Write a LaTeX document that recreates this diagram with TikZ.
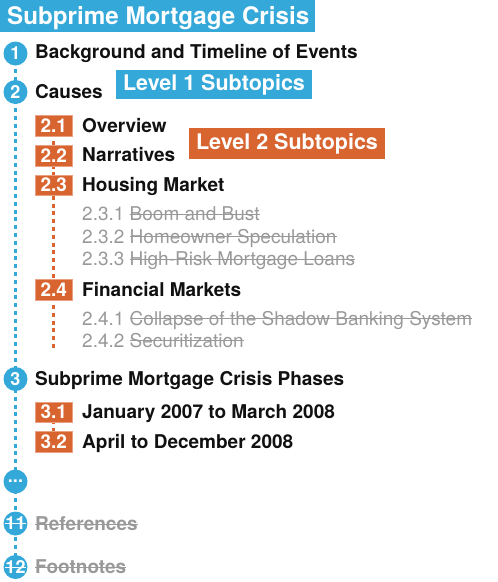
\documentclass[tikz,border=0pt]{standalone}
\usepackage{fontspec}
\setmainfont{TeX Gyre Heros}
\definecolor{blueC}{HTML}{34A8D8}
\definecolor{orangeC}{HTML}{D86430}
\definecolor{grayC}{HTML}{999999}
\definecolor{textC}{HTML}{111111}
\newcommand\mystrike[2]{\setbox0\hbox{#2}\rlap{\color{#1}\raisebox{0.3em}{\rule{\wd0}{1.3pt}}}\box0}
\pgfdeclarelayer{background}
\pgfsetlayers{background,main}
\tikzset{
  lvltext/.style={anchor=base west, inner sep=0pt, text=textC, font=\fontsize{19}{22}\selectfont\bfseries},
  subtext/.style={anchor=base west, inner sep=0pt, text=grayC, font=\fontsize{19}{22}\selectfont},
  donetext/.style={anchor=base west, inner sep=0pt, text=grayC, font=\fontsize{19}{22}\selectfont\bfseries},
  numc/.style={circle, fill=blueC, minimum size=24pt, inner sep=0pt, text=white, font=\fontsize{18}{18}\selectfont\bfseries},
  obox/.style={fill=orangeC, draw=orangeC!60, line width=0.5pt, minimum width=37.5pt, minimum height=20.5pt, inner sep=0pt, text=white, font=\fontsize{19}{19}\selectfont\bfseries},
  tagbox/.style={inner sep=0pt, text=white, font=\fontsize{21.5}{22}\selectfont\bfseries},
  bdash/.style={draw=blueC, line width=2.8pt, dash pattern=on 4pt off 3.8pt},
  odash/.style={draw=orangeC, line width=2.8pt, dash pattern=on 4pt off 3.8pt},
}
\begin{document}
\begin{tikzpicture}[x=1pt,y=-1pt]
\useasboundingbox (0,0) rectangle (498,582);
% title
\node[fill=blueC, anchor=north west, minimum width=315pt, minimum height=32pt, inner sep=0pt] (titlebox) at (0,0) {};
\node[anchor=base west, inner sep=0pt, text=white, font=\fontsize{24.2}{26}\selectfont\bfseries] (title) at (7,24.5) {Subprime Mortgage Crisis};
% level tags
\node[tagbox, fill=blueC, minimum width=196pt, minimum height=29pt] (tag1) at (214,84.5) {Level 1 Subtopics};
\node[tagbox, fill=orangeC, minimum width=196pt, minimum height=31pt] (tag2) at (287,143.5) {Level 2 Subtopics};
% circles
\node[numc] (c1) at (15.5,53.5) {1};
\node[numc] (c2) at (15.5,92) {2};
\node[numc] (c3) at (15.5,379) {3};
\node[numc] (cd) at (15.5,481.5) {...};
\node[numc] (c11) at (15.5,523.5) {\mystrike{white}{11}};
\node[numc] (c12) at (15.5,567) {\mystrike{white}{12}};
% level 1 texts
\node[lvltext] (t1) at (35,58.5) {Background and Timeline of Events};
\node[lvltext] (t2) at (35,98) {Causes};
\node[lvltext] (t3) at (35,385.5) {Subprime Mortgage Crisis Phases};
\node[donetext] (t11) at (35,530.5) {\mystrike{grayC}{References}};
\node[donetext] (t12) at (35,573.5) {\mystrike{grayC}{Footnotes}};
% orange boxes
\node[obox] (o21) at (53.75,125.5) {2.1};
\node[obox] (o22) at (53.75,155.5) {2.2};
\node[obox] (o23) at (53.75,185) {2.3};
\node[obox] (o24) at (53.75,289.5) {2.4};
\node[obox] (o31) at (53.75,412) {3.1};
\node[obox] (o32) at (53.75,441.5) {3.2};
\coordinate (oend) at (53.75,350);
% level 2 texts
\node[lvltext] (t21) at (82,132) {Overview};
\node[lvltext] (t22) at (82,161.5) {Narratives};
\node[lvltext] (t23) at (82,191) {Housing Market};
\node[lvltext] (t24) at (82,296) {Financial Markets};
\node[lvltext] (t31) at (82,418.5) {January 2007 to March 2008};
\node[lvltext] (t32) at (82,448) {April to December 2008};
% level 3 texts
\node[subtext] (t231) at (82,220.5) {2.3.1 \mystrike{grayC}{Boom and Bust}};
\node[subtext] (t232) at (82,243) {2.3.2 \mystrike{grayC}{Homeowner Speculation}};
\node[subtext] (t233) at (82,265.5) {2.3.3 \mystrike{grayC}{High-Risk Mortgage Loans}};
\node[subtext] (t241) at (82,325) {2.4.1 \mystrike{grayC}{Collapse of the Shadow Banking System}};
\node[subtext] (t242) at (82,347) {2.4.2 \mystrike{grayC}{Securitization}};
% connectors
\begin{pgfonlayer}{background}
\draw[bdash] (c1.center) -- (c12.center);
\draw[odash] (o21.center) -- (oend);
\draw[odash] (o31.center) -- (o32.center);
\end{pgfonlayer}
\end{tikzpicture}
\end{document}
